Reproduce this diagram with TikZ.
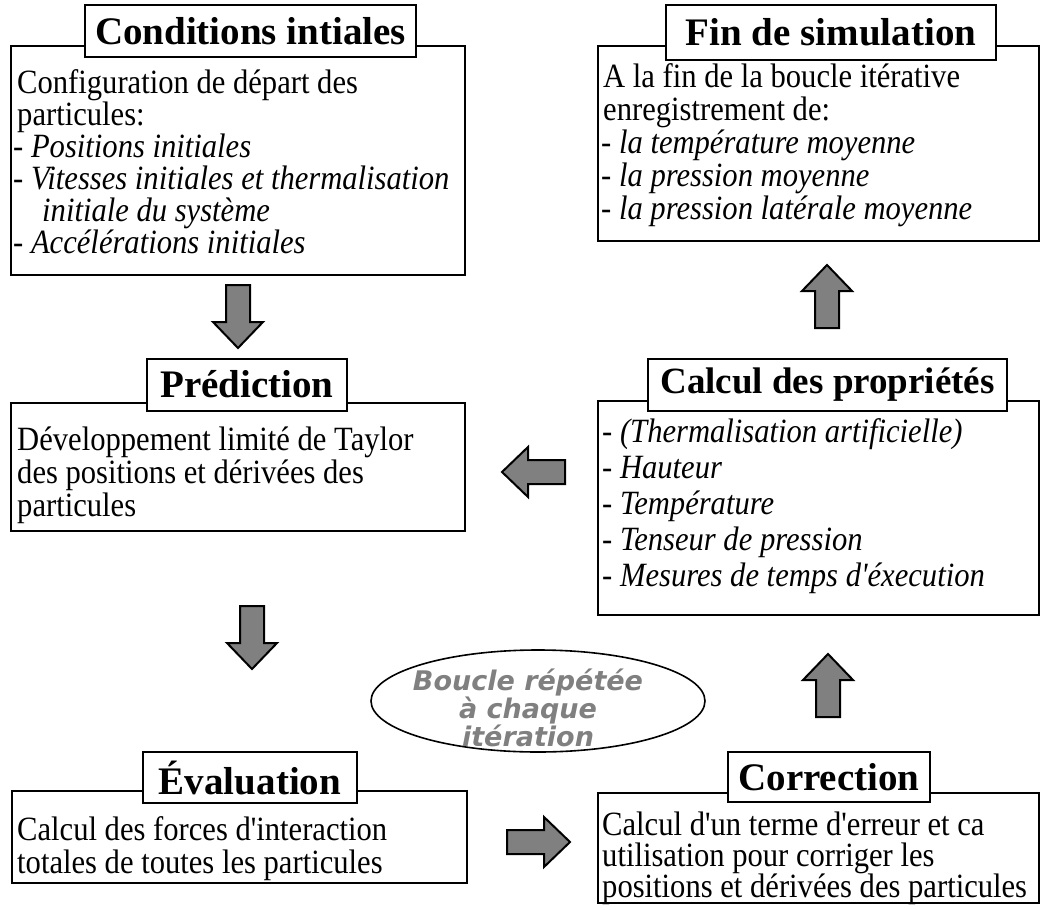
\documentclass[tikz,border=0pt]{standalone}
\usepackage{fontspec}
\setmainfont{Liberation Serif}
% slightly narrowed serif for the stage texts; straight apostrophes
\newfontfamily\bodyfont{Liberation Serif}[FakeStretch=0.9, Ligatures=ResetAll]
\newfontfamily\loopfont{DejaVu Sans}
\usetikzlibrary{shapes.geometric}

\definecolor{arrowgray}{RGB}{128,128,128}
\definecolor{loopgray}{RGB}{128,128,128}

\tikzset{
  panel/.style={draw, line width=2pt, anchor=north west, inner sep=0pt},
  heading/.style={draw, line width=2pt, fill=white, inner xsep=0pt, minimum height=52pt,
    font=\fontsize{39}{44}\selectfont\bfseries},
  body/.style={anchor=base west, inner sep=0pt, font=\bodyfont\fontsize{34}{#1}\selectfont},
  blockarrow/.pic={
    \draw[line width=2pt, fill=arrowgray]
      (0,-12) -- (37,-12) -- (37,-25) -- (63,0) -- (37,25) -- (37,12) -- (0,12) -- cycle;
  },
}

\begin{document}
\begin{tikzpicture}[x=1pt, y=-1pt]
\useasboundingbox (0,0) rectangle (1040,909);

% ---- frames of the six stages ----
\node[panel, minimum width=454pt, minimum height=229pt] (cond) at (10,45) {};
\node[panel, minimum width=441pt, minimum height=195pt] (fin)  at (597,45) {};
\node[panel, minimum width=454pt, minimum height=128pt] (pred) at (10,402) {};
\node[panel, minimum width=441pt, minimum height=214pt] (calc) at (597,400) {};
\node[panel, minimum width=455pt, minimum height=92pt]  (eval) at (11,790) {};
\node[panel, minimum width=441pt, minimum height=110pt] (corr) at (597,792) {};

% ---- stage headings ----
\node[heading, minimum width=331pt] (condT) at (250.5,31.5) {Conditions intiales};
\node[heading, minimum width=330pt, minimum height=55pt] (finT) at (831,32.5) {Fin de simulation};
\node[heading, minimum width=200pt] (predT) at (247,384.5) {Prédiction};
\node[heading, minimum width=359pt, font=\fontsize{37}{44}\selectfont\bfseries] (calcT) at (827.5,384.5) {Calcul des propriétés};
\node[heading, minimum width=214pt, minimum height=51pt] (evalT) at (250,777.5) {Évaluation};
\node[heading, minimum width=202pt, minimum height=50pt] (corrT) at (829,777) {Correction};

% ---- stage contents ----
\node[body=32] (condB) at (17,94) {\vtop{
\hbox{Configuration de départ des}
\hbox{particules:}
\hbox{\hskip-4pt- \textit{Positions initiales}}
\hbox{\hskip-4pt- \textit{Vitesses initiales et thermalisation}}
\hbox{\hskip25pt\textit{initiale du système}}
\hbox{\hskip-4pt- \textit{Accélérations initiales}}}};

\node[body=33] (finB) at (603,88) {\vtop{
\hbox{A la fin de la boucle itérative}
\hbox{enregistrement de:}
\hbox{\hskip-2pt- \textit{la température moyenne}}
\hbox{\hskip-2pt- \textit{la pression moyenne}}
\hbox{\hskip-2pt- \textit{la pression latérale moyenne}}}};

\node[body=33] (predB) at (17,450) {\vtop{
\hbox{Développement limité de Taylor}
\hbox{des positions et dérivées des}
\hbox{particules}}};

\node[body=36] (calcB) at (602,442) {\vtop{
\hbox{- \textit{(Thermalisation artificielle)}}
\hbox{- \textit{Hauteur}}
\hbox{- \textit{Température}}
\hbox{- \textit{Tenseur de pression}}
\hbox{- \textit{Mesures de temps d'éxecution}}}};

\node[body=33] (evalB) at (17,840) {\vtop{
\hbox{Calcul des forces d'interaction}
\hbox{totales de toutes les particules}}};

\node[body=31] (corrB) at (602,835) {\vtop{
\hbox{Calcul d'un terme d'erreur et ca}
\hbox{utilisation pour corriger les}
\hbox{positions et dérivées des particules}}};

% ---- loop label ----
\node[draw, ellipse, line width=1.6pt, minimum width=334pt, minimum height=102pt, inner sep=0pt] (loop) at (538,701) {};
\node[text=loopgray, align=center, inner sep=0pt,
  font=\loopfont\bfseries\itshape\fontsize{27}{28}\selectfont] (looptext) at (528,708)
  {Boucle répétée\\à chaque\\itération};

% ---- block arrows between the stages ----
\pic[rotate=-90] at (238,285) {blockarrow};   % conditions -> prediction
\pic[rotate=-90] at (252,606) {blockarrow};   % prediction -> evaluation
\pic at (507,842) {blockarrow};               % evaluation -> correction
\pic[rotate=90] at (828,717) {blockarrow};    % correction -> properties
\pic[rotate=180] at (565,472) {blockarrow};   % properties -> prediction
\pic[rotate=90] at (827,328) {blockarrow};    % properties -> end
\end{tikzpicture}
\end{document}
